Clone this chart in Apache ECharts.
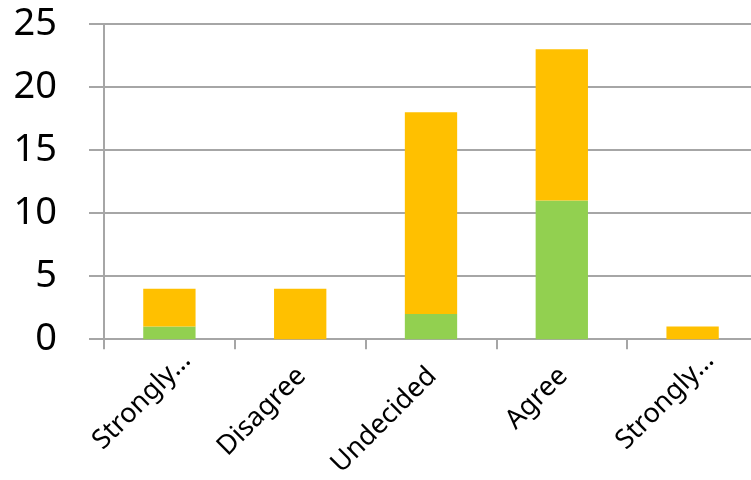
<!DOCTYPE html>
<html>
<head>
<meta charset="utf-8">
<script src="https://cdn.jsdelivr.net/npm/echarts@6/dist/echarts.min.js"></script>
<style>
  html, body { margin: 0; padding: 0; background: #ffffff; overflow: hidden; }
  /* plot runs slightly past the right edge of the page */
  #chart { width: 758px; height: 480px; }
</style>
</head>
<body>
<div id="chart"></div>
<script>
// Survey responses per answer, split into two stacked groups
const categories = ['Strongly…', 'Disagree', 'Undecided', 'Agree', 'Strongly…'];
const greenValues = [1, 0, 2, 11, 0];
const orangeValues = [3, 4, 16, 12, 1];
const yTicks = { min: 0, max: 25, interval: 5 };

const gridGray = '#a6a6a6';
const font = 'Noto Sans';

const chart = echarts.init(document.getElementById('chart'), null, { renderer: 'canvas' });

chart.setOption({
  animation: false,
  backgroundColor: '#ffffff',
  grid: { left: 104, right: 0, top: 24, bottom: 139, containLabel: false },
  xAxis: {
    type: 'category',
    data: categories,
    axisLine: { show: true, lineStyle: { color: gridGray, width: 2 } },
    axisTick: { show: true, length: 10, lineStyle: { color: gridGray, width: 2 } },
    axisLabel: {
      rotate: 45,
      margin: 0,
      interval: 0,
      padding: [48, 0, 0, 0],
      color: '#000000',
      fontFamily: font,
      fontSize: 27,
      formatter: function (v) {
        // truncated labels sit further along the diagonal than the others
        return v.indexOf('Strongly') === 0 ? '{s|' + v + '}' : '{n|' + v + '}';
      },
      rich: {
        s: { fontFamily: font, fontSize: 27, color: '#000000', padding: [0, 0, 0, 0] },
        n: { fontFamily: font, fontSize: 27, color: '#000000', padding: [0, 22, 0, 0] }
      }
    }
  },
  yAxis: {
    type: 'value',
    min: yTicks.min,
    max: yTicks.max,
    interval: yTicks.interval,
    axisLine: { show: true, lineStyle: { color: gridGray, width: 2 } },
    axisTick: { show: true, length: 15, lineStyle: { color: gridGray, width: 2 } },
    splitLine: { show: true, lineStyle: { color: gridGray, width: 2 } },
    axisLabel: {
      margin: 47,
      color: '#000000',
      fontFamily: font,
      fontSize: 38
    }
  },
  series: [
    {
      name: 'Group A',
      type: 'bar',
      stack: 'total',
      barWidth: '40%',
      data: greenValues,
      itemStyle: { color: '#92d050' }
    },
    {
      name: 'Group B',
      type: 'bar',
      stack: 'total',
      barWidth: '40%',
      data: orangeValues,
      itemStyle: { color: '#ffc000' }
    }
  ]
});
</script>
</body>
</html>
